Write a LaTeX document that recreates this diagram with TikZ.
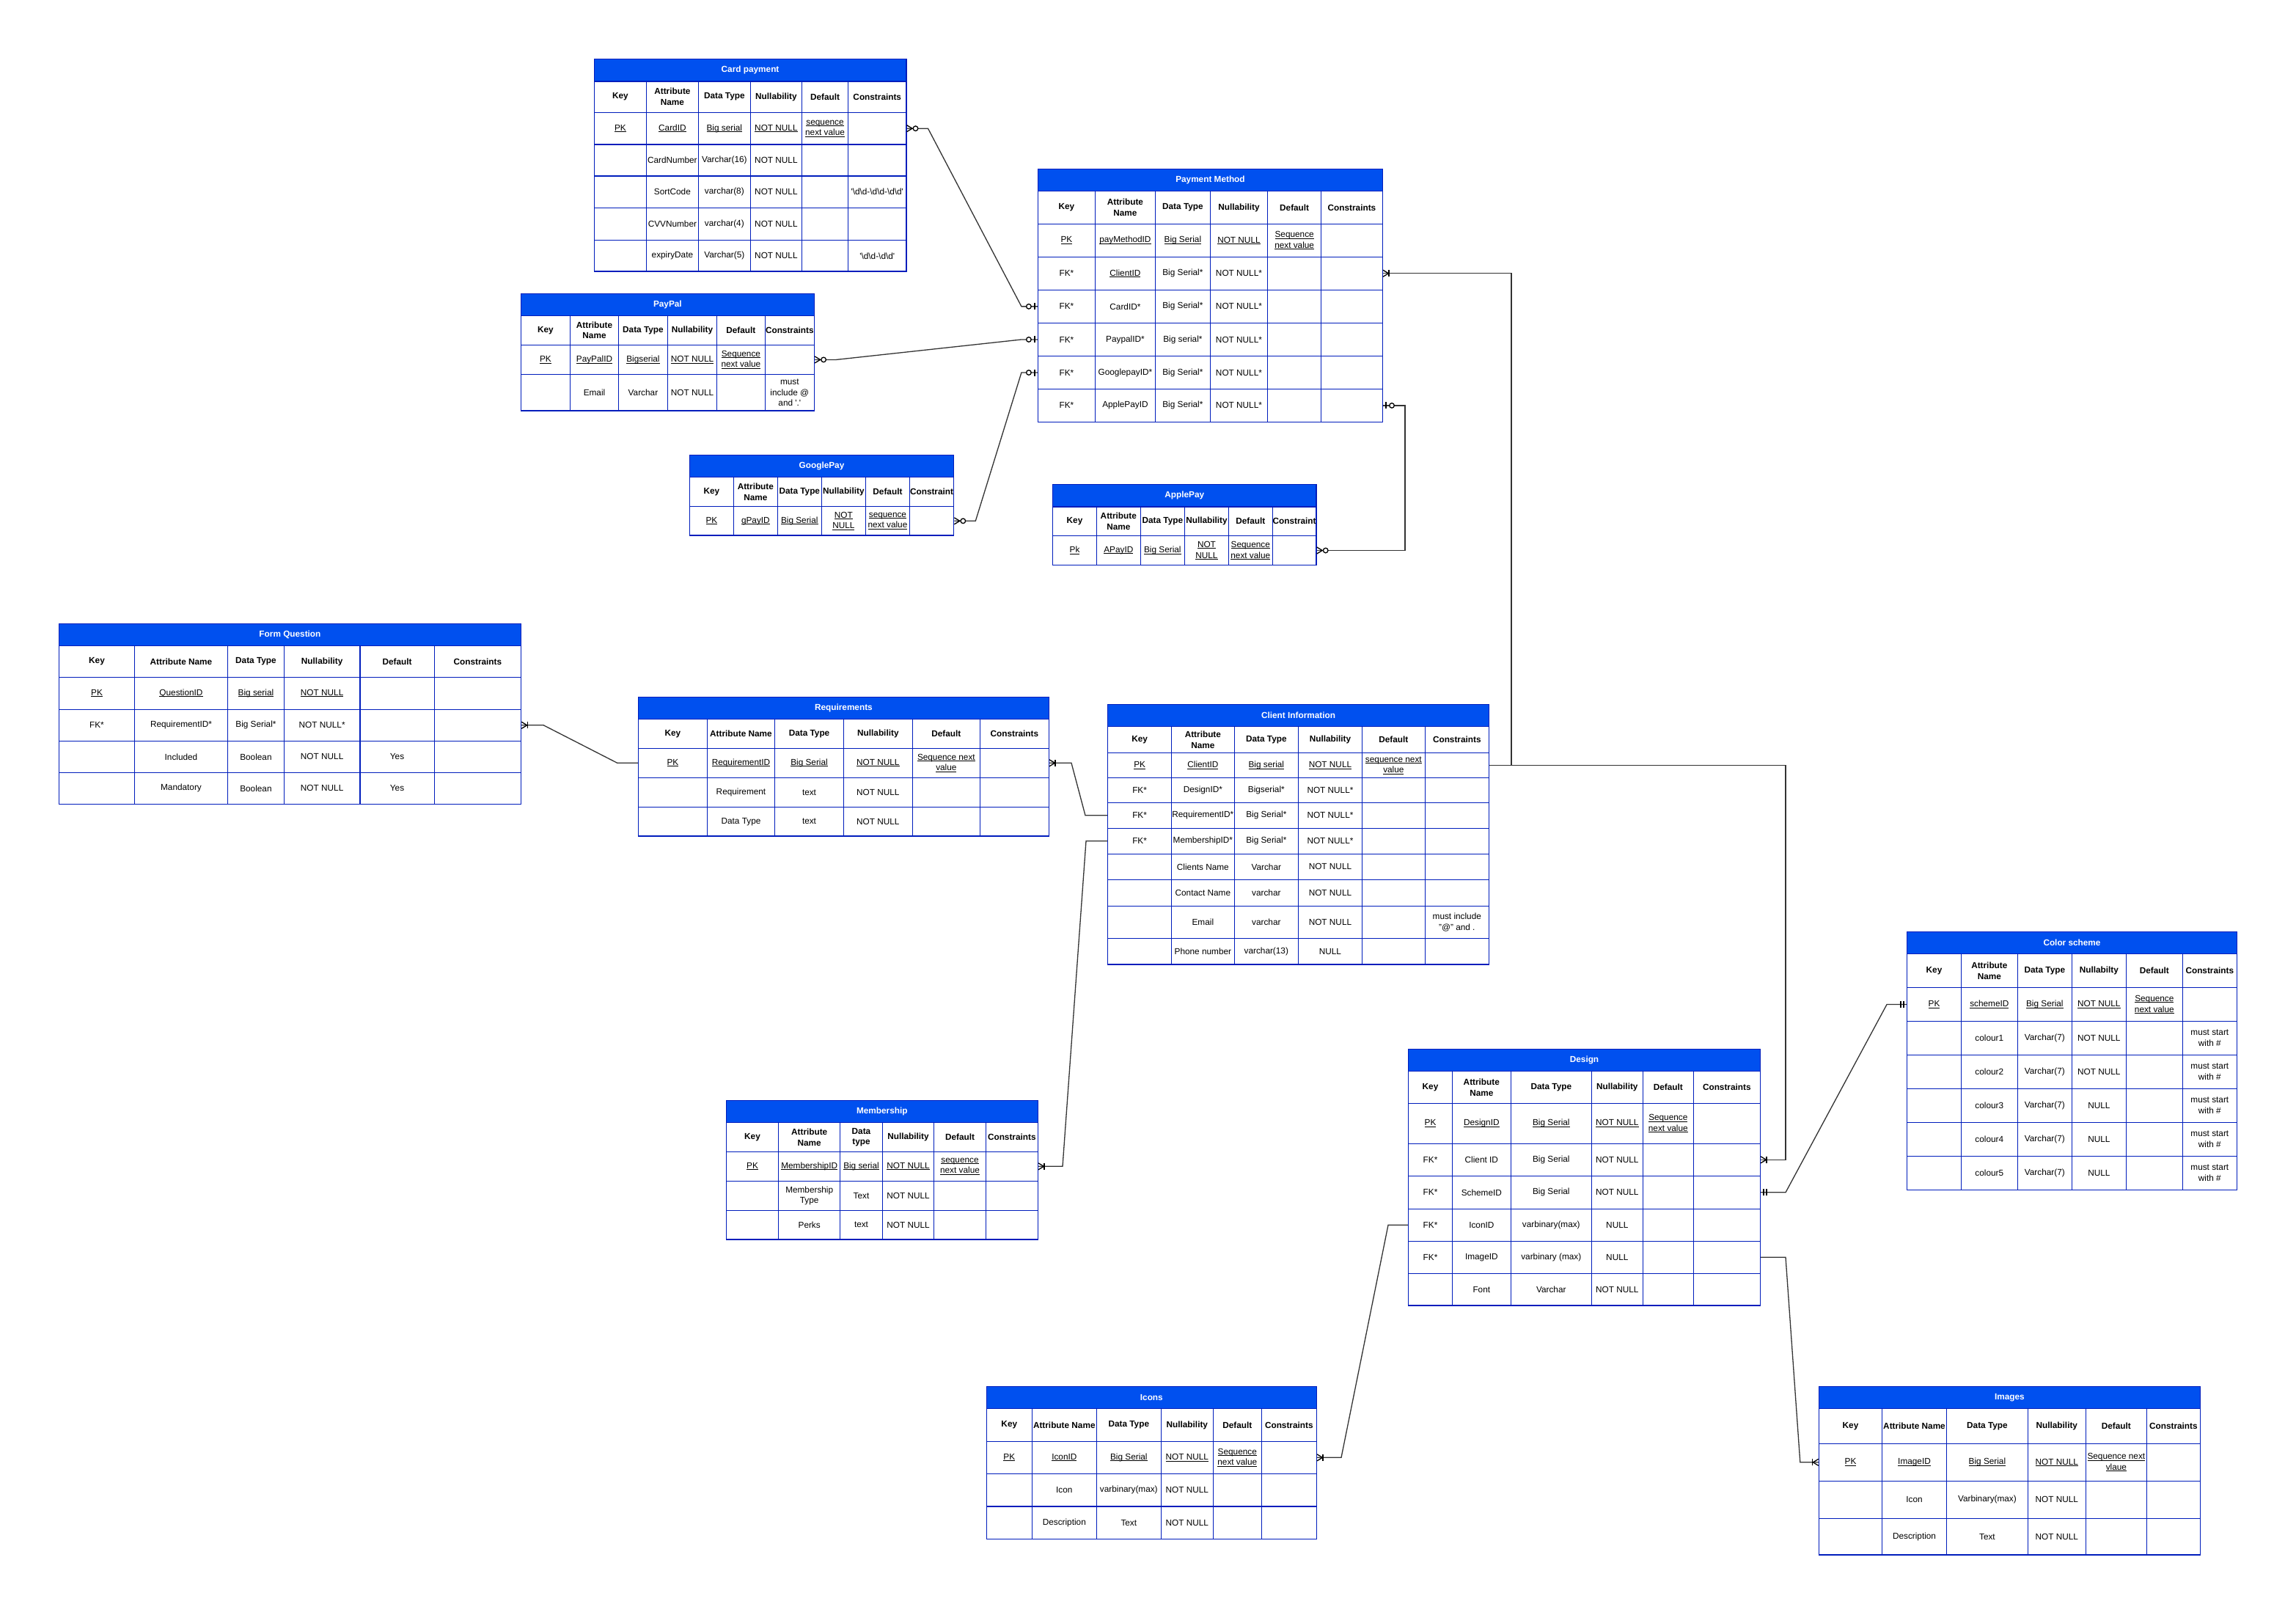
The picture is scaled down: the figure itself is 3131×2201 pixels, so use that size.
\documentclass[tikz,border=0pt]{standalone}
\usepackage{fontspec}
\setmainfont{Liberation Sans}
\definecolor{erblue}{HTML}{0050EF}
\definecolor{erborder}{HTML}{001DBC}
\newcommand\erU[1]{\setbox0=\hbox{#1}\rlap{\rule[-1.9pt]{\wd0}{0.9pt}}\box0}
\newcommand\erq{\textquotesingle}
\newcommand\erbs{\textbackslash}
\def\ercf{}
\tikzset{
  titlebox/.style={rectangle, draw=erborder, fill=erblue, line width=1.4pt, inner sep=0pt, text=white, font=\fontsize{11.8}{14.7}\selectfont\bfseries},
  rowbox/.style={rectangle, draw=erborder, line width=1.4pt, inner sep=0pt, fill=white},
  gridline/.style={draw=erborder, line width=1.4pt},
  celltext/.style={inner sep=0pt, align=center, text=black, font=\fontsize{11.8}{14.7}\selectfont\ercf},
  conn/.style={draw=black!80, line width=1.3pt},
  mk/.style={draw=black, line width=1.3pt},
  pics/crow/.style={code={\draw[mk] (0,-4.5) -- (7.5,0) -- (0,4.5);}},
  pics/barA/.style={code={\draw[mk] (4,-4.5) -- (4,4.5);}},
  pics/barB/.style={code={\draw[mk] (8,-4.5) -- (8,4.5);}},
  pics/ring/.style={code={\draw[mk,fill=white] (12,0) circle[radius=3.3];}},
}
% #1 name, #2 title, #3 column x list (7), #4 row y list, #5 number of body rows
\newcommand\ertable[5]{%
  \def\erX{{#3}}\def\erY{{#4}}\def\Tname{#1}%
  \pgfmathsetmacro\erxl{\erX[0]}\pgfmathsetmacro\erxr{\erX[6]}%
  \pgfmathsetmacro\eryt{\erY[0]}\pgfmathsetmacro\eryh{\erY[1]}%
  \pgfmathsetmacro\ertw{\erxr-\erxl}\pgfmathsetmacro\erth{\eryh-\eryt}%
  \pgfmathsetmacro\ermx{(\erxl+\erxr)/2}\pgfmathsetmacro\ermy{(\eryt+\eryh)/2}%
  \node[titlebox,minimum width=\ertw pt,minimum height=\erth pt] (#1) at (\ermx,\ermy) {#2};%
  \foreach \ri in {0,...,#5}{%
    \pgfmathtruncatemacro\eria{\ri+1}\pgfmathtruncatemacro\erib{\ri+2}%
    \pgfmathsetmacro\erya{\erY[\eria]}\pgfmathsetmacro\eryb{\erY[\erib]}%
    \pgfmathsetmacro\errh{\eryb-\erya}\pgfmathsetmacro\errc{(\erya+\eryb)/2}%
    \node[rowbox,minimum width=\ertw pt,minimum height=\errh pt] (#1-\ri) at (\ermx,\errc) {};%
  }%
  \pgfmathtruncatemacro\erlast{#5+2}%
  \pgfmathsetmacro\erybot{\erY[\erlast]}%
  \foreach \ci in {1,...,5}{\pgfmathsetmacro\erxc{\erX[\ci]}\draw[gridline] (\erxc,\eryh) -- (\erxc,\erybot);}%
}
\newcommand\ecel[3]{%
  \if\relax\detokenize{#3}\relax\else
  \pgfmathtruncatemacro\erca{#2+1}\pgfmathtruncatemacro\erra{#1+1}\pgfmathtruncatemacro\errb{#1+2}%
  \pgfmathsetmacro\erpa{\erX[#2]}\pgfmathsetmacro\erpb{\erX[\erca]}%
  \pgfmathsetmacro\erqa{\erY[\erra]}\pgfmathsetmacro\erqb{\erY[\errb]}%
  \pgfmathsetmacro\ercx{(\erpa+\erpb)/2}\pgfmathsetmacro\ercy{(\erqa+\erqb)/2}%
  \node[celltext] (\Tname-#1-#2) at (\ercx,\ercy) {#3};\fi}
\newcommand\erow[7]{\ecel{#1}{0}{#2}\ecel{#1}{1}{#3}\ecel{#1}{2}{#4}\ecel{#1}{3}{#5}\ecel{#1}{4}{#6}\ecel{#1}{5}{#7}}
\newcommand\hrow[6]{\def\ercf{\bfseries}\erow{0}{#1}{#2}{#3}{#4}{#5}{#6}\def\ercf{}}
\begin{document}
\begin{tikzpicture}[x=1pt,y=-1pt]
\fill[white] (0,0) rectangle (3131,2201);
\useasboundingbox (0,0) rectangle (3131,2201);

% Card payment
\ertable{cp}{Card payment}{810.3,881.5,952.3,1023.4,1093.4,1156.7,1235.8}{80.4,110.8,153.3,197,240,283.4,327.6,370}{5}
\hrow{Key}{Attribute\\Name}{Data Type}{Nullability}{Default}{Constraints}
\erow{1}{\erU{PK}}{\erU{CardID}}{\erU{Big serial}}{\erU{NOT NULL}}{\erU{sequence}\\\erU{next value}}{}
\erow{2}{}{CardNumber}{Varchar(16)}{NOT NULL}{}{}
\erow{3}{}{SortCode}{varchar(8)}{NOT NULL}{}{\erq\erbs d\erbs d-\erbs d\erbs d-\erbs d\erbs d\erq}
\erow{4}{}{CVVNumber}{varchar(4)}{NOT NULL}{}{}
\erow{5}{}{expiryDate}{Varchar(5)}{NOT NULL}{}{\erq\erbs d\erbs d-\erbs d\erbs d\erq}

% PayPal
\ertable{pp}{PayPal}{710.3,777.5,843.5,910.4,977.6,1043.2,1110.4}{400.4,430.4,470.3,510.6,560}{2}
\hrow{Key}{Attribute\\Name}{Data Type}{Nullability}{Default}{Constraints}
\erow{1}{\erU{PK}}{\erU{PayPalID}}{\erU{Bigserial}}{\erU{NOT NULL}}{\erU{Sequence}\\\erU{next value}}{}
\erow{2}{}{Email}{Varchar}{NOT NULL}{}{must\\include @\\and \erq.\erq}

% GooglePay
\ertable{gp}{GooglePay}{940.4,1000.5,1060.2,1120.3,1180.4,1240.5,1300.6}{620.7,650.7,690.6,730}{1}
\hrow{Key}{Attribute\\Name}{Data Type}{Nullability}{Default}{Constraint}
\erow{1}{\erU{PK}}{\erU{gPayID}}{\erU{Big Serial}}{\erU{NOT}\\\erU{NULL}}{\erU{sequence}\\\erU{next value}}{}

% Payment Method
\ertable{pm}{Payment Method}{1415.6,1493.2,1575.6,1650.2,1728.7,1801.6,1885.3}{230.5,260.4,305.5,350.2,395.3,440.4,485.5,530.5,575.3}{6}
\hrow{Key}{Attribute\\Name}{Data Type}{Nullability}{Default}{Constraints}
\erow{1}{\erU{PK}}{\erU{payMethodID}}{\erU{Big Serial}}{\erU{NOT NULL}}{\erU{Sequence}\\\erU{next value}}{}
\erow{2}{FK*}{\erU{ClientID}}{Big Serial*}{NOT NULL*}{}{}
\erow{3}{FK*}{CardID*}{Big Serial*}{NOT NULL*}{}{}
\erow{4}{FK*}{PaypalID*}{Big serial*}{NOT NULL*}{}{}
\erow{5}{FK*}{GooglepayID*}{Big Serial*}{NOT NULL*}{}{}
\erow{6}{FK*}{ApplePayID}{Big Serial*}{NOT NULL*}{}{}

% ApplePay
\ertable{ap}{ApplePay}{1435.6,1495.4,1555.2,1615.5,1675.4,1735.2,1795}{660.4,690.9,730.5,770.5}{1}
\hrow{Key}{Attribute\\Name}{Data Type}{Nullability}{Default}{Constraint}
\erow{1}{\erU{Pk}}{\erU{APayID}}{\erU{Big Serial}}{\erU{NOT}\\\erU{NULL}}{\erU{Sequence}\\\erU{next value}}{}

% Form Question
\ertable{fq}{Form Question}{80.4,183.6,310.4,387.5,490.8,592.3,710.5}{850.7,880.7,923.3,967.3,1010.3,1053.3,1096.3}{4}
\hrow{Key}{Attribute Name}{Data Type}{Nullability}{Default}{Constraints}
\erow{1}{\erU{PK}}{\erU{QuestionID}}{\erU{Big serial}}{\erU{NOT NULL}}{}{}
\erow{2}{FK*}{RequirementID*}{Big Serial*}{NOT NULL*}{}{}
\erow{3}{}{Included}{Boolean}{NOT NULL}{Yes}{}
\erow{4}{}{Mandatory}{Boolean}{NOT NULL}{Yes}{}

% Requirements
\ertable{rq}{Requirements}{870.5,964.4,1056.6,1150.4,1244.3,1336.4,1430.3}{950.7,980.7,1020.3,1060.3,1100.3,1140}{3}
\hrow{Key}{Attribute Name}{Data Type}{Nullability}{Default}{Constraints}
\erow{1}{\erU{PK}}{\erU{RequirementID}}{\erU{Big Serial}}{\erU{NOT NULL}}{\erU{Sequence next}\\\erU{value}}{}
\erow{2}{}{Requirement}{text}{NOT NULL}{}{}
\erow{3}{}{Data Type}{text}{NOT NULL}{}{}

% Client Information
\ertable{ci}{Client Information}{1510.7,1597.5,1683.2,1770.4,1857.5,1943.2,2030.4}{960.7,990.7,1026.7,1060.3,1094.3,1129.3,1164.3,1199.3,1235.3,1279.3,1315}{8}
\hrow{Key}{Attribute\\Name}{Data Type}{Nullability}{Default}{Constraints}
\erow{1}{\erU{PK}}{\erU{ClientID}}{\erU{Big serial}}{\erU{NOT NULL}}{\erU{sequence next}\\\erU{value}}{}
\erow{2}{FK*}{DesignID*}{Bigserial*}{NOT NULL*}{}{}
\erow{3}{FK*}{RequirementID*}{Big Serial*}{NOT NULL*}{}{}
\erow{4}{FK*}{MembershipID*}{Big Serial*}{NOT NULL*}{}{}
\erow{5}{}{Clients Name}{Varchar}{NOT NULL}{}{}
\erow{6}{}{Contact Name}{varchar}{NOT NULL}{}{}
\erow{7}{}{Email}{varchar}{NOT NULL}{}{must include\\"@" and .}
\erow{8}{}{Phone number}{varchar(13)}{NULL}{}{}

% Color scheme
\ertable{cs}{Color scheme}{2600.7,2674.3,2751.3,2825.3,2899.3,2976.3,3050.3}{1270.7,1300.7,1346.7,1392.3,1438.3,1484.3,1530.3,1576.3,1622.3}{6}
\hrow{Key}{Attribute\\Name}{Data Type}{Nullabilty}{Default}{Constraints}
\erow{1}{\erU{PK}}{\erU{schemeID}}{\erU{Big Serial}}{\erU{NOT NULL}}{\erU{Sequence}\\\erU{next value}}{}
\erow{2}{}{colour1}{Varchar(7)}{NOT NULL}{}{must start\\with \#}
\erow{3}{}{colour2}{Varchar(7)}{NOT NULL}{}{must start\\with \#}
\erow{4}{}{colour3}{Varchar(7)}{NULL}{}{must start\\with \#}
\erow{5}{}{colour4}{Varchar(7)}{NULL}{}{must start\\with \#}
\erow{6}{}{colour5}{Varchar(7)}{NULL}{}{must start\\with \#}

% Design
\ertable{ds}{Design}{1920.7,1980.3,2060.3,2170.3,2240.3,2309.3,2400.3}{1430.7,1460.7,1504.3,1559.3,1603.3,1648.3,1692.3,1736.3,1780}{6}
\hrow{Key}{Attribute\\Name}{Data Type}{Nullability}{Default}{Constraints}
\erow{1}{\erU{PK}}{\erU{DesignID}}{\erU{Big Serial}}{\erU{NOT NULL}}{\erU{Sequence}\\\erU{next value}}{}
\erow{2}{FK*}{Client ID}{Big Serial}{NOT NULL}{}{}
\erow{3}{FK*}{SchemeID}{Big Serial}{NOT NULL}{}{}
\erow{4}{FK*}{IconID}{varbinary(max)}{NULL}{}{}
\erow{5}{FK*}{ImageID}{varbinary (max)}{NULL}{}{}
\erow{6}{}{Font}{Varchar}{NOT NULL}{}{}

% Membership
\ertable{ms}{Membership}{990.3,1061.7,1145.7,1203.3,1273.7,1344.3,1415.3}{1500.3,1530.7,1570.3,1610.3,1650.3,1690}{3}
\hrow{Key}{Attribute\\Name}{Data\\type}{Nullability}{Default}{Constraints}
\erow{1}{\erU{PK}}{\erU{MembershipID}}{\erU{Big serial}}{\erU{NOT NULL}}{\erU{sequence}\\\erU{next value}}{}
\erow{2}{}{Membership\\Type}{Text}{NOT NULL}{}{}
\erow{3}{}{Perks}{text}{NOT NULL}{}{}

% Icons
\ertable{ic}{Icons}{1345.3,1407.3,1495.3,1583.3,1654.3,1720.3,1795.3}{1890.3,1920.7,1965.3,2009.3,2054,2098.3}{3}
\hrow{Key}{Attribute Name}{Data Type}{Nullability}{Default}{Constraints}
\erow{1}{\erU{PK}}{\erU{IconID}}{\erU{Big Serial}}{\erU{NOT NULL}}{\erU{Sequence}\\\erU{next value}}{}
\erow{2}{}{Icon}{varbinary(max)}{NOT NULL}{}{}
\erow{3}{}{Description}{Text}{NOT NULL}{}{}

% Images
\ertable{im}{Images}{2480.5,2566.5,2654.5,2765.3,2844.3,2927.4,3000.3}{1890.3,1920.7,1968.3,2019.3,2070.3,2120}{3}
\hrow{Key}{Attribute Name}{Data Type}{Nullability}{Default}{Constraints}
\erow{1}{\erU{PK}}{\erU{ImageID}}{\erU{Big Serial}}{\erU{NOT NULL}}{\erU{Sequence next}\\\erU{vlaue}}{}
\erow{2}{}{Icon}{Varbinary(max)}{NOT NULL}{}{}
\erow{3}{}{Description}{Text}{NOT NULL}{}{}

% connectors
\draw[conn] (cp-1.east) -- ++(29,0) -- ([xshift=-22pt]pm-3.west) -- (pm-3.west);
\draw[conn] (pp-1.east) -- ++(29,0) -- ([xshift=-22pt]pm-4.west) -- (pm-4.west);
\draw[conn] (gp-1.east) -- ++(29,0) -- ([xshift=-22pt]pm-5.west) -- (pm-5.west);
\draw[conn] (pm-6.east) -- ++(30,0) |- (ap-1.east);
\draw[conn] (ci-1.east) -- ++(30,0) |- (pm-2.east);
\draw[conn] (ci-1.east) -- ++(404,0) |- (ds-2.east);
\draw[conn] (ds-3.east) -- ++(34,0) -- ([xshift=-27pt]cs-1.west) -- (cs-1.west);
\draw[conn] (ds-5.east) -- ++(34,0) -- ([xshift=-25pt]im-1.west) -- (im-1.west);
\draw[conn] (ds-4.west) -- ++(-27,0) -- ([xshift=33pt]ic-1.east) -- (ic-1.east);
\draw[conn] (ci-3.west) -- ++(-30,0) -- ([xshift=30pt]rq-1.east) -- (rq-1.east);
\draw[conn] (ci-4.west) -- ++(-29,0) -- ([xshift=33pt]ms-1.east) -- (ms-1.east);
\draw[conn] (fq-2.east) -- ++(30,0) -- ([xshift=-28pt]rq-1.west) -- (rq-1.west);

% markers
\pic at (cp-1.east) {crow}; \pic at (cp-1.east) {ring};
\pic[rotate=180] at (pm-3.west) {barA}; \pic[rotate=180] at (pm-3.west) {ring};
\pic at (pp-1.east) {crow}; \pic at (pp-1.east) {ring};
\pic[rotate=180] at (pm-4.west) {barA}; \pic[rotate=180] at (pm-4.west) {ring};
\pic at (gp-1.east) {crow}; \pic at (gp-1.east) {ring};
\pic[rotate=180] at (pm-5.west) {barA}; \pic[rotate=180] at (pm-5.west) {ring};
\pic at (pm-6.east) {barA}; \pic at (pm-6.east) {ring};
\pic at (ap-1.east) {crow}; \pic at (ap-1.east) {ring};
\pic at (pm-2.east) {crow}; \pic at (pm-2.east) {barB};
\pic at (ds-2.east) {crow}; \pic at (ds-2.east) {barB};
\pic at (ds-3.east) {barA}; \pic at (ds-3.east) {barB};
\pic[rotate=180] at (cs-1.west) {barA}; \pic[rotate=180] at (cs-1.west) {barB};
\pic[rotate=180] at (im-1.west) {crow}; \pic[rotate=180] at (im-1.west) {barB};
\pic at (ic-1.east) {crow}; \pic at (ic-1.east) {barB};
\pic at (rq-1.east) {crow}; \pic at (rq-1.east) {barB};
\pic at (ms-1.east) {crow}; \pic at (ms-1.east) {barB};
\pic at (fq-2.east) {crow}; \pic at (fq-2.east) {barB};
\end{tikzpicture}
\end{document}
